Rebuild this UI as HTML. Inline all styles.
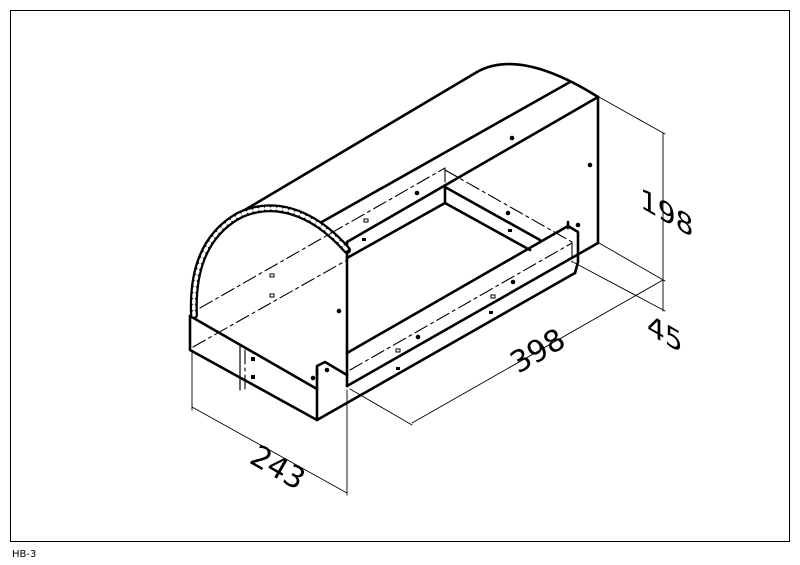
<!DOCTYPE html>
<html><head><meta charset="utf-8"><style>
html,body{margin:0;padding:0;background:#fff;}
svg{display:block;}
text{font-family:"DejaVu Sans","Liberation Sans",sans-serif;}
</style></head><body>
<svg width="800" height="565" viewBox="0 0 800 565" xmlns="http://www.w3.org/2000/svg">
<rect x="10.5" y="10.5" width="779" height="531" fill="none" stroke="#000" stroke-width="1"/>
<text x="12" y="557" font-size="10" fill="#000">HB-3</text>

<g fill="none" stroke="#000" stroke-linecap="round" stroke-linejoin="round">
<g stroke-width="0.9">
<line x1="192" y1="350" x2="192" y2="410"/>
<line x1="347" y1="390" x2="347" y2="495"/>
<line x1="192" y1="407" x2="347" y2="493"/>
<line x1="350" y1="389" x2="412" y2="425"/>
<line x1="412" y1="423" x2="663" y2="280"/>
<line x1="599" y1="243" x2="665" y2="281"/>
<line x1="599" y1="97" x2="665" y2="134"/>
<line x1="573" y1="262" x2="665" y2="311"/>
<line x1="663" y1="133" x2="663" y2="311"/>
</g>

<g stroke-width="2.6">
<line x1="238" y1="214" x2="477" y2="72"/>
<path d="M477 72 Q520 48 598 97"/>
<line x1="320" y1="223" x2="570" y2="82"/>
<line x1="347" y1="242" x2="598" y2="97"/>
<line x1="598" y1="97" x2="598" y2="243"/>
<line x1="347" y1="242" x2="347" y2="386"/>
<line x1="347" y1="258" x2="445" y2="203"/>
<line x1="445" y1="187" x2="445" y2="203"/>
<line x1="445" y1="187" x2="540" y2="240"/>
<line x1="445" y1="203" x2="530" y2="250"/>
<line x1="347" y1="353" x2="568" y2="226"/>
<line x1="347" y1="386" x2="598" y2="243"/>
<line x1="317" y1="420" x2="575" y2="273"/>
<polyline points="568,226 578,232 578,262 575,273"/>
<line x1="568" y1="222" x2="568" y2="228"/>
<polyline points="317,375 317,366 325,362 347,375"/>
<line x1="317" y1="370" x2="317" y2="420"/>
<polyline points="190,316 190,350 317,420"/>
<line x1="190" y1="316" x2="317" y2="389"/>
<line x1="190" y1="316" x2="196" y2="313"/>
</g>
<path d="M194 315 C192 270 205 235 238 216 C270 200 310 208 347 250" stroke="#000" stroke-width="8"/>
<path d="M194 315 C192 270 205 235 238 216 C270 200 310 208 347 250" stroke="#fff" stroke-width="3.5" stroke-dasharray="2.5 3.5"/>

<g stroke-width="1.1" stroke-dasharray="14 4 3 4">
<line x1="200" y1="308" x2="445" y2="168"/>
<line x1="193" y1="347" x2="347" y2="260"/>
<line x1="445" y1="170" x2="572" y2="242"/>
<line x1="445" y1="168" x2="445" y2="187"/>
<line x1="350" y1="370" x2="572" y2="243"/>
<line x1="572" y1="243" x2="572" y2="262"/>
<line x1="245" y1="350" x2="245" y2="392"/>
</g>
<line x1="240" y1="346" x2="240" y2="390" stroke-width="1.2"/>
</g>

<g fill="#000">
<circle cx="512" cy="138" r="2.3"/><circle cx="590" cy="165" r="2.3"/>
<circle cx="417" cy="193" r="2.3"/><circle cx="339" cy="311" r="2.3"/>
<circle cx="508" cy="213" r="2.3"/><circle cx="578" cy="225" r="2.3"/>
<circle cx="513" cy="282" r="2.3"/><circle cx="418" cy="337" r="2.3"/>
<circle cx="313" cy="378" r="2.3"/><circle cx="327" cy="370" r="2.3"/>
<rect x="362" y="238" width="4" height="3"/><rect x="508" y="229" width="4" height="3"/>
<rect x="489" y="311" width="4" height="3"/><rect x="396" y="367" width="4" height="3"/>
<rect x="251" y="357" width="4" height="4"/><rect x="251" y="375" width="4" height="4"/>
</g>
<g fill="none" stroke="#000" stroke-width="1">
<rect x="364" y="219" width="4" height="3"/><rect x="270" y="274" width="4" height="3"/>
<rect x="270" y="294" width="4" height="3"/><rect x="491" y="295" width="4" height="3"/>
<rect x="396" y="349" width="4" height="3"/>
</g>

<text transform="translate(248,462) rotate(30)" font-size="30">243</text>
<text transform="translate(518,374) rotate(-30)" font-size="30">398</text>
<text transform="translate(640,207) skewY(30)" font-size="28">198</text>
<text transform="translate(647,333) skewY(30)" font-size="28">45</text>
</svg>
</body></html>
